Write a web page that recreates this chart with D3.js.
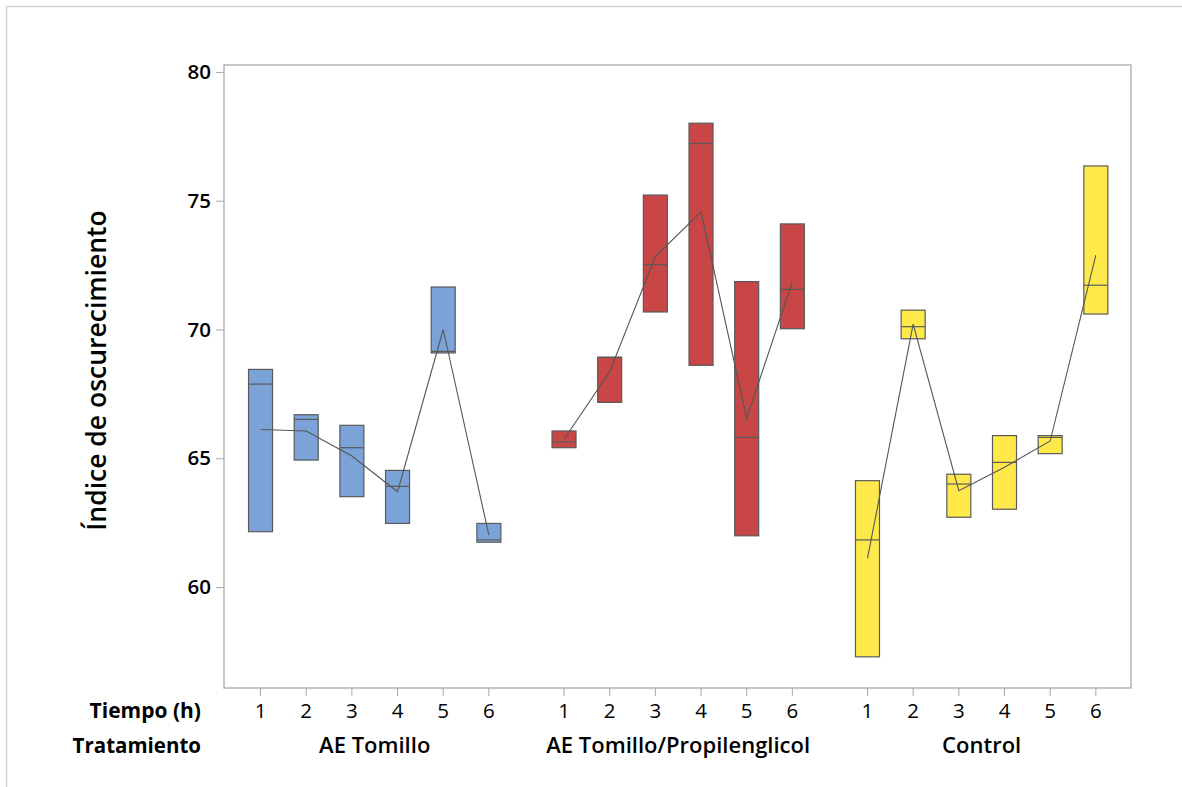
<!DOCTYPE html>
<html>
<head>
<meta charset="utf-8">
<script src="https://cdn.jsdelivr.net/npm/d3@7"></script>
<style>
  body { margin: 0; background: white; }
  svg text { font-family: "Open Sans", "Noto Sans", sans-serif; fill: #000; }
</style>
</head>
<body>
<div id="chart"></div>
<script>
// valeurs (n=3 : la boîte va du min au max)
const tiempos = ["1", "2", "3", "4", "5", "6"];
const tratamientos = ["AE Tomillo", "AE Tomillo/Propilenglicol", "Control"];
const colores = ["#7BA3D7", "#C84646", "#FFE94A"];
const yTicks = [60, 65, 70, 75, 80];

const cajaMin = [
  [62.15, 64.93, 63.51, 62.47, 69.09, 61.74],
  [65.41, 67.17, 70.68, 68.61, 61.99, 70.03],
  [57.29, 69.64, 62.71, 63.02, 65.18, 70.60]
];
const cajaMediana = [
  [67.88, 66.51, 65.41, 63.91, 69.15, 61.83],
  [65.64, 68.92, 72.52, 77.22, 65.81, 71.56],
  [61.83, 70.11, 64.00, 64.84, 65.81, 71.72]
];
const cajaMax = [
  [68.45, 66.69, 66.28, 64.53, 71.65, 62.47],
  [66.06, 68.92, 75.22, 78.01, 71.86, 74.10],
  [64.13, 70.75, 64.38, 65.88, 65.88, 76.35]
];
const medias = [
  [66.12, 66.06, 65.09, 63.70, 70.00, 62.02],
  [65.74, 68.36, 72.83, 74.57, 66.55, 71.86],
  [61.11, 70.21, 63.74, 64.65, 65.67, 72.89]
];

function drawChart() {
  const width = 1182, height = 787;
  const plot = {left: 224, right: 1131, top: 65, bottom: 688};
  const groupGap = 0.645;

  const svg = d3.select("#chart").append("svg")
    .attr("width", width).attr("height", height);

  // cadre extérieur
  svg.append("path")
    .attr("d", `M6.5,${height} V6.5 H${width}`)
    .attr("fill", "none").attr("stroke", "#d4d4d4").attr("stroke-width", 1.5);

  const pos = (g, t) => g * (tiempos.length + groupGap) + t;
  const x = d3.scaleLinear()
    .domain([-0.8, pos(2, 5) + 0.77])
    .range([plot.left, plot.right]);
  const y = d3.scaleLinear()
    .domain([56.08, 80.27])
    .range([plot.bottom, plot.top]);

  const boxW = 24;

  const rows = [];
  tratamientos.forEach((trat, g) => {
    tiempos.forEach((t, i) => {
      rows.push({g, i, trat, t,
        lo: cajaMin[g][i], med: cajaMediana[g][i], hi: cajaMax[g][i], mean: medias[g][i]});
    });
  });

  // cadre du graphe
  svg.append("rect")
    .attr("x", plot.left).attr("y", plot.top)
    .attr("width", plot.right - plot.left).attr("height", plot.bottom - plot.top)
    .attr("fill", "none").attr("stroke", "#a9a9a9").attr("stroke-width", 1.3);

  // axe Y
  const yAxis = svg.append("g")
    .attr("transform", `translate(${plot.left},0)`)
    .call(d3.axisLeft(y).tickValues(yTicks).tickSize(8).tickPadding(5));
  yAxis.select(".domain").remove();
  yAxis.selectAll(".tick line").attr("stroke", "#a9a9a9");
  yAxis.selectAll(".tick text")
    .style("font-size", "20.5px").style("font-weight", "600")
    .style("font-family", "'Open Sans', sans-serif").attr("fill", "#000");

  svg.append("text")
    .attr("transform", `translate(106,${(plot.top + plot.bottom) / 2 - 6}) rotate(-90)`)
    .attr("text-anchor", "middle")
    .style("font-size", "26.5px").style("font-weight", "600")
    .text("Índice de oscurecimiento");

  // boîtes
  svg.append("g").selectAll("rect")
    .data(rows).join("rect")
    .attr("x", d => x(pos(d.g, d.i)) - boxW / 2)
    .attr("y", d => y(d.hi))
    .attr("width", boxW)
    .attr("height", d => y(d.lo) - y(d.hi))
    .attr("fill", d => colores[d.g])
    .attr("stroke", "#5a5a5a").attr("stroke-width", 1.2);

  svg.append("g").selectAll("line")
    .data(rows).join("line")
    .attr("x1", d => x(pos(d.g, d.i)) - boxW / 2)
    .attr("x2", d => x(pos(d.g, d.i)) + boxW / 2)
    .attr("y1", d => y(d.med)).attr("y2", d => y(d.med))
    .attr("stroke", "#5a5a5a").attr("stroke-width", 1.2);

  // ligne des moyennes par traitement
  const line = d3.line()
    .x(d => x(pos(d.g, d.i)))
    .y(d => y(d.mean));
  tratamientos.forEach((trat, g) => {
    svg.append("path")
      .datum(rows.filter(d => d.g === g))
      .attr("d", line)
      .attr("fill", "none").attr("stroke", "#555").attr("stroke-width", 1.1);
  });

  // axe X (deux niveaux)
  svg.append("g").selectAll("line")
    .data(rows).join("line")
    .attr("x1", d => x(pos(d.g, d.i))).attr("x2", d => x(pos(d.g, d.i)))
    .attr("y1", plot.bottom).attr("y2", plot.bottom + 8)
    .attr("stroke", "#a9a9a9");

  svg.append("g").selectAll("text")
    .data(rows).join("text")
    .attr("x", d => x(pos(d.g, d.i)))
    .attr("y", 718)
    .attr("text-anchor", "middle")
    .style("font-size", "20.5px").style("font-weight", "500")
    .text(d => d.t);

  svg.append("g").selectAll("text")
    .data(tratamientos).join("text")
    .attr("x", (d, g) => (x(pos(g, 0)) + x(pos(g, 5))) / 2)
    .attr("y", 753)
    .attr("text-anchor", "middle")
    .style("font-size", "22px").style("font-weight", "600")
    .text(d => d);

  svg.append("text")
    .attr("x", 201).attr("y", 718).attr("text-anchor", "end")
    .style("font-size", "21px").style("font-weight", "700")
    .text("Tiempo (h)");
  svg.append("text")
    .attr("x", 201).attr("y", 753).attr("text-anchor", "end")
    .style("font-size", "20.5px").style("font-weight", "700")
    .text("Tratamiento");
}

drawChart();
</script>
</body>
</html>
